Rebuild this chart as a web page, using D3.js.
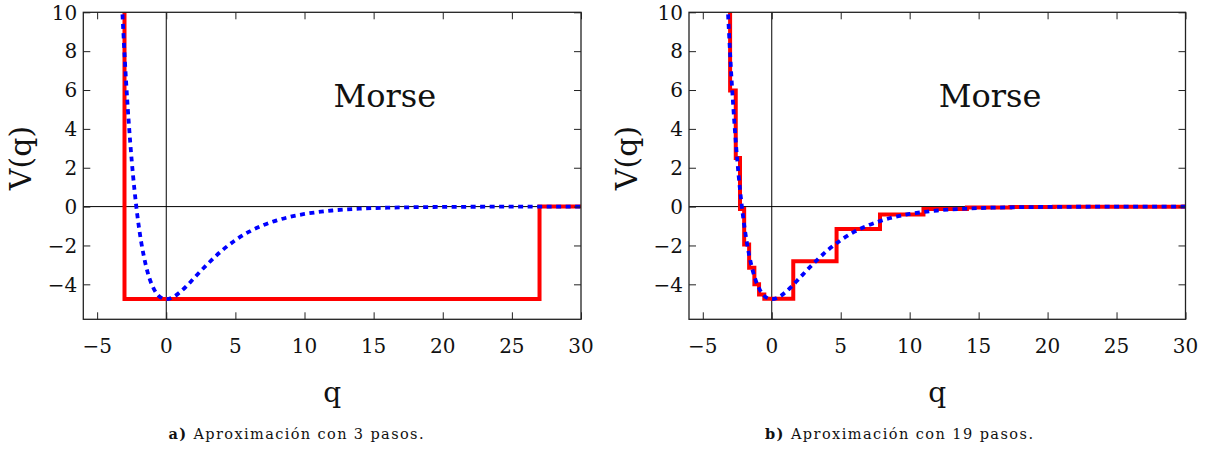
<!DOCTYPE html>
<html><head><meta charset="utf-8">
<script src="https://cdn.jsdelivr.net/npm/d3@7"></script>
<style>body{margin:0;background:#fff}svg{display:block}</style>
</head><body>
<script>
// ---- data ----
const morseQ = [-3.2,-3.1,-3.0,-2.8,-2.6,-2.4,-2.2,-2.0,-1.8,-1.5,-1.2,-0.9,-0.6,-0.3,0,0.5,1,1.5,2,2.5,3,4,5,6,7,8,9,10,11,12,14,16,18,20,25,30];
const morseV = [10.39,8.95,7.61,5.25,3.26,1.59,0.21,-0.94,-1.87,-2.95,-3.72,-4.23,-4.55,-4.71,-4.76,-4.66,-4.40,-4.07,-3.69,-3.31,-2.95,-2.28,-1.73,-1.29,-0.96,-0.71,-0.52,-0.38,-0.28,-0.20,-0.107,-0.057,-0.03,-0.016,-0.003,0];

const steps3X = [-6,-3.02,27,30];
const steps3V = [12,-4.75,0,0];
const steps19X = [-6,-3.02,-2.61,-2.30,-2.0,-1.64,-1.26,-0.92,-0.54,1.56,4.70,7.85,11.0,14.15,17.3,20.45,23.6,26.7,29.85,30];
const steps19V = [12,5.97,2.5,-0.12,-1.95,-3.15,-4.0,-4.52,-4.74,-2.81,-1.15,-0.41,-0.12,-0.05,-0.025,-0.012,-0.006,-0.003,-0.001,-0.001];

const xTicks = [-5,0,5,10,15,20,25,30];
const yTicks = [-4,-2,0,2,4,6,8,10];
const xDomain = [-6,30];
const yDomain = [-5.8,10];
const plotTitle = "Morse";
const xTitle = "q";
const yTitle = "V(q)";
const captions = [["a)"," Aproximación con 3 pasos."],["b)"," Aproximación con 19 pasos."]];

// ---- drawing ----
const W=1205,H=450;
const svg=d3.select("body").append("svg").attr("width",W).attr("height",H);
svg.append("rect").attr("width",W).attr("height",H).attr("fill","#fff");
const serif="DejaVu Serif, serif";
const fmt=d=>d<0?"\u2212"+Math.abs(d):String(d);

const panels=[
 {x0:83.3,x1:581,sx:steps3X,sv:steps3V,cap:captions[0],capX:296,capW:255},
 {x0:689,x1:1185.5,sx:steps19X,sv:steps19V,cap:captions[1],capX:899,capW:268}
];
const yTop=12.3,yBot=319.3;

panels.forEach((p,i)=>{
  const x=d3.scaleLinear().domain(xDomain).range([p.x0,p.x1]);
  const y=d3.scaleLinear().domain(yDomain).range([yBot,yTop]);
  const g=svg.append("g");
  const cid="clip"+i;
  svg.append("clipPath").attr("id",cid).append("rect")
    .attr("x",p.x0).attr("y",yTop).attr("width",p.x1-p.x0).attr("height",yBot-yTop);

  // zero axes
  g.append("line").attr("x1",p.x0).attr("x2",p.x1).attr("y1",y(0)).attr("y2",y(0)).attr("stroke","#000").attr("stroke-width",1);
  g.append("line").attr("x1",x(0)).attr("x2",x(0)).attr("y1",yTop).attr("y2",yBot).attr("stroke","#000").attr("stroke-width",1);

  const pl=g.append("g").attr("clip-path",`url(#${cid})`);
  // step approximation
  const stepPts=p.sx.map((q,k)=>[q,p.sv[k]]);
  pl.append("path").datum(stepPts)
    .attr("d",d3.line().x(d=>x(d[0])).y(d=>y(d[1])).curve(d3.curveStepAfter))
    .attr("fill","none").attr("stroke","#ff0000").attr("stroke-width",4).attr("stroke-linejoin","miter");
  // morse curve
  const mPts=morseQ.map((q,k)=>[q,morseV[k]]);
  pl.append("path").datum(mPts)
    .attr("d",d3.line().x(d=>x(d[0])).y(d=>y(d[1])).curve(d3.curveMonotoneX))
    .attr("fill","none").attr("stroke","#0000ff").attr("stroke-width",3.8).attr("stroke-dasharray","5,4.5");

  // frame
  g.append("rect").attr("x",p.x0).attr("y",yTop).attr("width",p.x1-p.x0).attr("height",yBot-yTop)
    .attr("fill","none").attr("stroke","#222").attr("stroke-width",1.3);

  // ticks (inward) on all four sides
  const minorX=d3.range(-6,30.01,1);
  const minorY=d3.range(-5.5,10.01,0.5);
  const mk=(scale,orient,vals,len)=>orient(scale).tickValues(vals).tickSize(-len).tickFormat("");
  const bot=g.append("g").attr("transform",`translate(0,${yBot})`);
  bot.call(mk(x,d3.axisBottom,minorX,4)); bot.call(mk(x,d3.axisBottom,xTicks,7));
  const top=g.append("g").attr("transform",`translate(0,${yTop})`);
  top.call(mk(x,d3.axisTop,minorX,4)); top.call(mk(x,d3.axisTop,xTicks,7));
  const lft=g.append("g").attr("transform",`translate(${p.x0},0)`);
  lft.call(mk(y,d3.axisLeft,minorY,4)); lft.call(mk(y,d3.axisLeft,yTicks,7));
  const rgt=g.append("g").attr("transform",`translate(${p.x1},0)`);
  rgt.call(mk(y,d3.axisRight,minorY,4)); rgt.call(mk(y,d3.axisRight,yTicks,7));
  g.selectAll(".domain").remove();
  g.selectAll(".tick line").attr("stroke","#222").attr("stroke-width",1);

  // tick labels
  g.selectAll(".xl").data(xTicks).enter().append("text")
    .attr("x",d=>x(d)).attr("y",353).attr("text-anchor","middle")
    .attr("font-family",serif).attr("font-size",20).attr("fill","#111").text(fmt);
  g.selectAll(".yl").data(yTicks).enter().append("text")
    .attr("x",p.x0-6).attr("y",d=>y(d)+7.3).attr("text-anchor","end")
    .attr("font-family",serif).attr("font-size",20).attr("fill","#111").text(fmt);

  // titles
  g.append("text").attr("x",(p.x0+p.x1)/2).attr("y",402).attr("text-anchor","middle")
    .attr("font-family",serif).attr("font-size",28).attr("fill","#111").text(xTitle);
  g.append("text").attr("transform",`translate(${p.x0-52},158) rotate(-90)`).attr("text-anchor","middle")
    .attr("font-family",serif).attr("font-size",30).attr("fill","#111").text(yTitle);
  g.append("text").attr("x",x(12.1)).attr("y",107).attr("text-anchor","start")
    .attr("font-family",serif).attr("font-size",32).attr("fill","#111").text(plotTitle);

  // caption
  const c=g.append("text").attr("x",p.capX).attr("y",439).attr("text-anchor","middle")
    .attr("font-family",serif).attr("font-size",14.5).attr("fill","#111")
    .attr("textLength",p.capW).attr("lengthAdjust","spacing");
  c.append("tspan").attr("font-weight","bold").text(p.cap[0]);
  c.append("tspan").text(p.cap[1]);
});
</script>
</body></html>
